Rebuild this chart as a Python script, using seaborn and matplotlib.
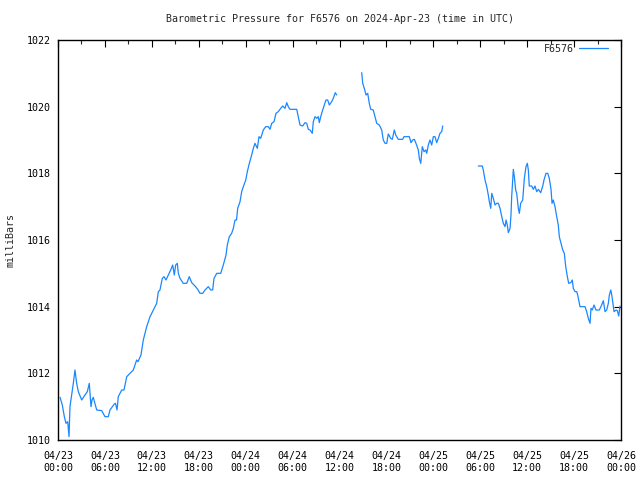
import numpy as np
import pandas as pd
import matplotlib
matplotlib.use("Agg")
import matplotlib.pyplot as plt
import matplotlib.dates as mdates
import seaborn as sns

# ---- data (hours since 2024-04-23 00:00 UTC, pressure in mb) ----
seg1_hours = [0.26, 0.55, 0.81, 1.02, 1.24, 1.41, 1.53, 1.75, 1.96, 2.17, 2.39, 2.60, 3.03, 3.45, 3.75,
              4.00, 4.22, 4.35, 4.51, 4.95, 5.59, 6.01, 6.43, 6.65, 7.20, 7.35, 7.55, 7.71, 8.15, 8.44,
              8.79, 9.21, 9.63, 10.06, 10.23, 10.61, 10.91, 11.34, 11.77, 12.19, 12.62, 12.83, 13.04,
              13.34, 13.56, 13.81, 14.11, 14.41, 14.67, 14.87, 15.05, 15.26, 15.39, 15.60, 16.02, 16.46,
              16.79, 17.10, 17.52, 17.87, 18.16, 18.51, 18.80, 19.22, 19.53, 19.78, 19.95, 20.30, 20.81,
              21.14, 21.49, 21.65, 21.91, 22.21, 22.42, 22.64, 22.83, 22.98, 23.28, 23.49, 23.70, 24.01,
              24.21, 24.47, 24.77, 24.98, 25.19, 25.49, 25.71, 25.92, 26.26, 26.56, 26.90, 27.11, 27.33,
              27.62, 27.88, 28.17, 28.48, 28.74, 29.03, 29.25, 29.45, 29.67, 30.53, 30.73, 30.95, 31.29,
              31.59, 31.81, 32.01, 32.23, 32.52, 32.65, 32.87, 33.09, 33.29, 33.42, 33.60, 33.85, 34.06,
              34.27, 34.49, 34.70, 35.00, 35.21, 35.46, 35.64]
seg1_mb = [1011.28, 1011.05, 1010.70, 1010.50, 1010.55, 1010.10, 1011.00, 1011.35, 1011.70, 1012.10,
           1011.70, 1011.45, 1011.20, 1011.35, 1011.45, 1011.70, 1011.00, 1011.20, 1011.28, 1010.90,
           1010.88, 1010.70, 1010.70, 1010.90, 1011.08, 1011.10, 1010.90, 1011.30, 1011.50, 1011.50,
           1011.90, 1012.00, 1012.10, 1012.40, 1012.35, 1012.55, 1013.00, 1013.40, 1013.70, 1013.90,
           1014.10, 1014.45, 1014.50, 1014.85, 1014.90, 1014.80, 1014.95, 1015.10, 1015.25, 1014.95,
           1015.25, 1015.30, 1015.00, 1014.85, 1014.70, 1014.70, 1014.90, 1014.72, 1014.62, 1014.52,
           1014.40, 1014.40, 1014.50, 1014.60, 1014.50, 1014.50, 1014.85, 1015.00, 1015.00, 1015.25,
           1015.55, 1015.85, 1016.10, 1016.20, 1016.35, 1016.60, 1016.60, 1016.95, 1017.15, 1017.45,
           1017.60, 1017.80, 1018.05, 1018.30, 1018.55, 1018.75, 1018.90, 1018.75, 1019.10, 1019.05,
           1019.30, 1019.40, 1019.40, 1019.32, 1019.50, 1019.55, 1019.80, 1019.85, 1019.95, 1020.02,
           1019.95, 1020.12, 1020.00, 1019.92, 1019.92, 1019.70, 1019.45, 1019.42, 1019.52, 1019.50,
           1019.32, 1019.30, 1019.20, 1019.55, 1019.70, 1019.65, 1019.70, 1019.52, 1019.70, 1019.90,
           1020.05, 1020.20, 1020.20, 1020.05, 1020.15, 1020.25, 1020.42, 1020.35]

seg2_hours = [38.84, 38.97, 39.17, 39.39, 39.61, 39.81, 39.99, 40.32, 40.54, 40.76, 41.09, 41.40, 41.60,
              41.82, 42.04, 42.24, 42.55, 42.75, 43.01, 43.19, 43.52, 44.08, 44.25, 44.93, 45.14, 45.36,
              45.57, 45.78, 46.08, 46.21, 46.39, 46.59, 46.81, 47.03, 47.15, 47.36, 47.57, 47.79, 48.00,
              48.21, 48.43, 48.64, 48.85, 49.07, 49.20]
seg2_mb = [1021.02, 1020.70, 1020.55, 1020.35, 1020.40, 1020.10, 1019.92, 1019.90, 1019.70, 1019.50,
           1019.45, 1019.30, 1019.00, 1018.90, 1018.90, 1019.18, 1019.05, 1019.02, 1019.30, 1019.15,
           1019.02, 1019.02, 1019.10, 1019.10, 1018.92, 1019.00, 1019.02, 1018.90, 1018.70, 1018.45,
           1018.30, 1018.80, 1018.65, 1018.70, 1018.60, 1018.85, 1019.00, 1018.85, 1019.10, 1019.10,
           1018.92, 1019.05, 1019.20, 1019.25, 1019.42]

seg3_hours = [53.75, 54.26, 54.39, 54.61, 54.83, 55.03, 55.16, 55.34, 55.47, 55.67, 55.89, 56.10, 56.31,
              56.53, 56.75, 56.95, 57.17, 57.30, 57.46, 57.59, 57.81, 57.93, 58.02, 58.15, 58.23, 58.36,
              58.53, 58.66, 58.87, 59.00, 59.17, 59.43, 59.64, 59.85, 60.02, 60.15, 60.27, 60.58, 60.79,
              61.00, 61.22, 61.43, 61.73, 61.99, 62.15, 62.41, 62.63, 62.83, 63.05, 63.18, 63.34, 63.56,
              63.78, 63.98, 64.11, 64.33, 64.55, 64.75, 64.93, 65.14, 65.31, 65.57, 65.77, 65.90, 66.12,
              66.34, 66.46, 66.63, 66.76, 67.40, 67.61, 67.82, 68.04, 68.16, 68.33, 68.55, 68.80, 69.23,
              69.53, 69.74, 69.96, 70.17, 70.38, 70.51, 70.69, 70.82, 70.94, 71.11, 71.36, 71.53, 71.71,
              71.87]
seg3_mb = [1018.22, 1018.22, 1018.10, 1017.80, 1017.60, 1017.35, 1017.15, 1016.95, 1017.40, 1017.25,
           1017.05, 1017.10, 1017.10, 1016.95, 1016.70, 1016.50, 1016.40, 1016.60, 1016.45, 1016.22,
           1016.35, 1016.75, 1017.30, 1017.80, 1018.12, 1017.90, 1017.50, 1017.40, 1016.95, 1016.80,
           1017.10, 1017.20, 1017.85, 1018.20, 1018.30, 1018.10, 1017.62, 1017.62, 1017.52, 1017.62,
           1017.45, 1017.52, 1017.42, 1017.62, 1017.80, 1018.00, 1018.00, 1017.85, 1017.52, 1017.10,
           1017.20, 1017.00, 1016.70, 1016.45, 1016.10, 1015.90, 1015.70, 1015.60, 1015.20, 1014.90,
           1014.70, 1014.72, 1014.80, 1014.55, 1014.45, 1014.45, 1014.35, 1014.15, 1014.00, 1014.00,
           1013.85, 1013.65, 1013.50, 1013.95, 1013.90, 1014.05, 1013.90, 1013.90, 1014.05, 1014.18,
           1013.85, 1013.90, 1014.10, 1014.35, 1014.50, 1014.35, 1014.15, 1013.85, 1013.90, 1013.88,
           1013.72, 1014.02]

title = "Barometric Pressure for F6576 on 2024-Apr-23 (time in UTC)"
station = "F6576"
ylabel = "milliBars"
start = pd.Timestamp("2024-04-23 00:00")
end = pd.Timestamp("2024-04-26 00:00")

frames = []
for i, (h, v) in enumerate([(seg1_hours, seg1_mb), (seg2_hours, seg2_mb), (seg3_hours, seg3_mb)]):
    frames.append(pd.DataFrame({"time": start + pd.to_timedelta(h, unit="h"),
                                "mb": v, "seg": i, "station": station}))
df = pd.concat(frames, ignore_index=True)

sns.set_style("white")
plt.rcParams["font.family"] = ["DejaVu Sans Mono", "DejaVu Sans"]

fig = plt.figure(figsize=(6.4, 4.8), dpi=100)
ax = fig.add_axes([58 / 640, 40 / 480, (621 - 58) / 640, (440 - 40) / 480])

color = "#1a87ff"
sns.lineplot(data=df, x="time", y="mb", units="seg", estimator=None, color=color,
             linewidth=0.9, ax=ax, legend=False)
ax.plot([], [], color=color, linewidth=0.9, label=station)

ax.set_xlim(start, end)
ax.set_ylim(1010, 1022)
ax.set_yticks(np.arange(1010, 1023, 2))
ax.xaxis.set_major_locator(mdates.HourLocator(byhour=[0, 6, 12, 18]))
ax.xaxis.set_minor_locator(mdates.HourLocator(byhour=[3, 9, 15, 21]))
ax.xaxis.set_major_formatter(mdates.DateFormatter("%m/%d\n%H:%M"))

ax.tick_params(axis="both", which="major", direction="in", length=5, width=0.8,
               top=True, right=True, labelsize=7.2, colors="black", pad=5)
ax.tick_params(axis="x", which="major", pad=8)
ax.tick_params(axis="x", which="minor", direction="in", length=3, width=0.8, top=True)
for s in ax.spines.values():
    s.set_visible(True)
    s.set_color("black")
    s.set_linewidth(1.0)

ax.set_xlabel("")
ax.set_ylabel(ylabel, fontsize=7.2)
ax.yaxis.set_label_coords(-(58 - 16) / 563, 0.5)
ax.set_title(title, fontsize=7.2, pad=13)

leg = ax.legend(loc="upper right", bbox_to_anchor=(1 - 6 / 563, 1 + 3 / 400), frameon=False,
                markerfirst=False, fontsize=7.2, handlelength=2.9, handletextpad=0.5,
                borderaxespad=0.3)

fig.savefig("out.png", dpi=100)
